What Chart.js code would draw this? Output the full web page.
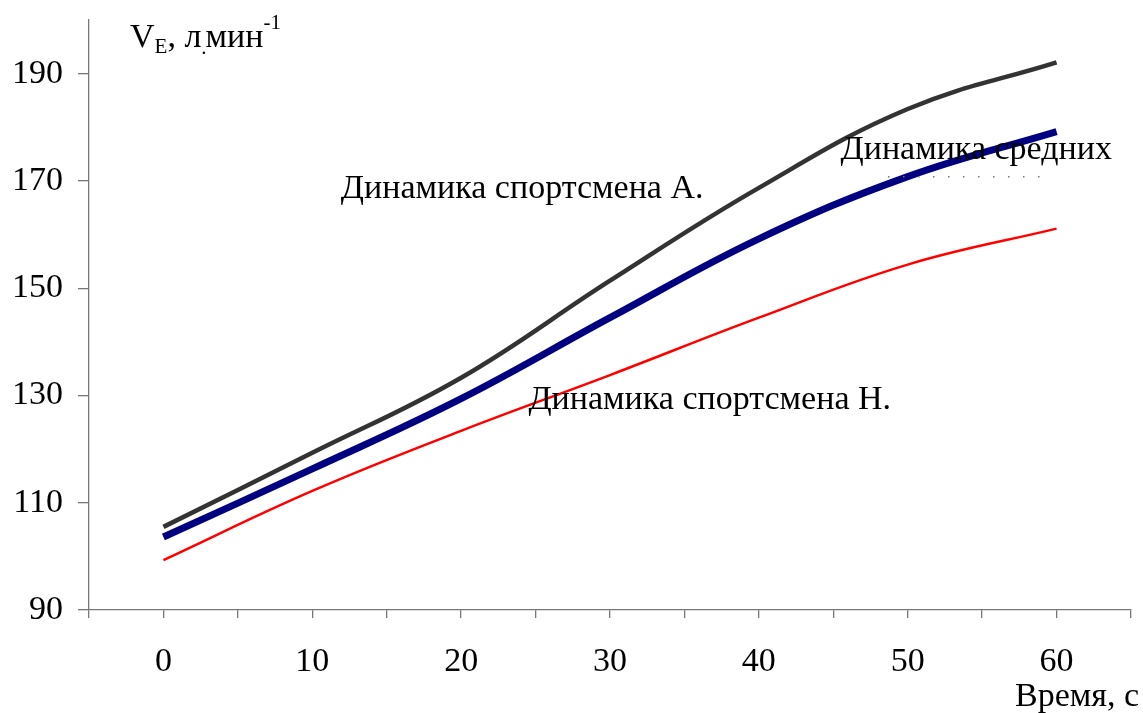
<!DOCTYPE html>
<html>
<head>
<meta charset="utf-8">
<script src="https://cdn.jsdelivr.net/npm/chart.js@4.4.0/dist/chart.umd.min.js"></script>
<style>
html,body{margin:0;padding:0;background:#fff;}
#wrap{width:1143px;height:713px;position:relative;}
</style>
</head>
<body>
<div id="wrap"><canvas id="c" width="1143" height="713"></canvas></div>
<script>
// Data
const times = [0, 10, 20, 30, 40, 50, 60];
const athleteA = [105.5, 119.3, 133.3, 151.4, 168.7, 183.4, 192.1];
const averages = [103.6, 116.3, 129.4, 144.5, 159.2, 170.8, 179.2];
const athleteH = [99.3, 112.2, 123.4, 133.8, 144.5, 154.4, 161.1];
const yTickValues = [90, 110, 130, 150, 170, 190];
const xTickValues = [-5, 0, 5, 10, 15, 20, 25, 30, 35, 40, 45, 50, 55, 60, 65];
const labelA = 'Динамика спортсмена А.';
const labelH = 'Динамика спортсмена Н.';
const labelAvg = 'Динамика средних';
const xTitle = 'Время, с';

const FONT = '"Liberation Serif", "Times New Roman", serif';
const FS = 34;

function pts(ys){ return times.map((t,i)=>({x:t,y:ys[i]})); }

const annotations = {
  id:'annotations',
  afterDraw(chart){
    const ctx = chart.ctx, xs = chart.scales.x, ys = chart.scales.y;
    const ca = chart.chartArea;
    ctx.save();
    ctx.fillStyle = '#000';
    ctx.font = FS + 'px ' + FONT;
    ctx.textBaseline = 'middle';
    ctx.textAlign = 'center';
    ctx.fillText(labelA, xs.getPixelForValue(24.1), ys.getPixelForValue(168.4));
    ctx.fillText(labelH, xs.getPixelForValue(36.7), ys.getPixelForValue(129.2));
    ctx.fillText(labelAvg, xs.getPixelForValue(54.6), ys.getPixelForValue(175.8));
    // dotted leftover line under "Динамика средних"
    ctx.fillStyle = '#777';
    const yd = Math.round(ys.getPixelForValue(171));
    const x0 = xs.getPixelForValue(48.7), x1 = xs.getPixelForValue(59.7);
    for (let x = x0; x <= x1; x += 15) ctx.fillRect(Math.round(x), yd, 1.5, 1.5);
    // x axis title
    ctx.fillStyle = '#000';
    ctx.textAlign = 'right';
    ctx.textBaseline = 'alphabetic';
    ctx.fillText(xTitle, 1139, 706);
    // y axis title: V_E, л.мин^-1
    let x = ca.left + 41, base = 47;
    ctx.textAlign = 'left';
    ctx.font = FS + 'px ' + FONT;
    ctx.fillText('V', x, base); x += ctx.measureText('V').width;
    ctx.font = '21px ' + FONT;
    ctx.fillText('E', x, base + 6); x += ctx.measureText('E').width;
    ctx.font = FS + 'px ' + FONT;
    ctx.fillText(', л', x, base); x += ctx.measureText(', л').width;
    ctx.font = '21px ' + FONT;
    ctx.fillText('.', x, base + 7); x += ctx.measureText('.').width - 1;
    ctx.font = FS + 'px ' + FONT;
    ctx.fillText('мин', x, base); x += ctx.measureText('мин').width;
    ctx.font = '21px ' + FONT;
    ctx.fillText('-1', x, base - 18);
    ctx.restore();
  }
};

new Chart(document.getElementById('c'), {
  type: 'line',
  data: {
    datasets: [
      {label: labelH, data: pts(athleteH), borderColor: '#ff0000', borderWidth: 2.5, tension: 0.4, pointRadius: 0, fill:false},
      {label: labelAvg, data: pts(averages), borderColor: '#000080', borderWidth: 7, tension: 0.4, pointRadius: 0, fill:false, borderCapStyle:'butt'},
      {label: labelA, data: pts(athleteA), borderColor: '#333333', borderWidth: 4.5, tension: 0.4, pointRadius: 0, fill:false}
    ]
  },
  options: {
    responsive: false,
    animation: false,
    events: [],
    layout: {padding: {left: 0, right: 12, top: 20, bottom: 0}},
    plugins: {legend: {display: false}, tooltip: {enabled: false}},
    scales: {
      x: {
        type: 'linear', min: -5, max: 65,
        afterBuildTicks: s => { s.ticks = xTickValues.map(v => ({value: v})); },
        afterFit: s => { s.height = 103; s.paddingLeft = 0; s.paddingRight = 0; },
        ticks: {
          autoSkip: false, maxRotation: 0,
          color: '#000', font: {family: FONT, size: FS}, padding: 24,
          callback: v => (v % 10 === 0 && v >= 0 && v <= 60) ? String(v) : ''
        },
        grid: {drawOnChartArea: false, drawTicks: true, tickLength: 8, color: '#777', lineWidth: 1.3},
        border: {color: '#777', width: 1.3}
      },
      y: {
        type: 'linear', min: 90, max: 200,
        afterBuildTicks: s => { s.ticks = yTickValues.map(v => ({value: v})); },
        afterFit: s => { s.width = 89; s.paddingTop = 0; s.paddingBottom = 0; },
        ticks: {color: '#000', font: {family: FONT, size: FS}, padding: 15},
        grid: {drawOnChartArea: false, drawTicks: true, tickLength: 11, color: '#777', lineWidth: 1.3},
        border: {color: '#777', width: 1.3}
      }
    }
  },
  plugins: [annotations]
});
</script>
</body>
</html>
